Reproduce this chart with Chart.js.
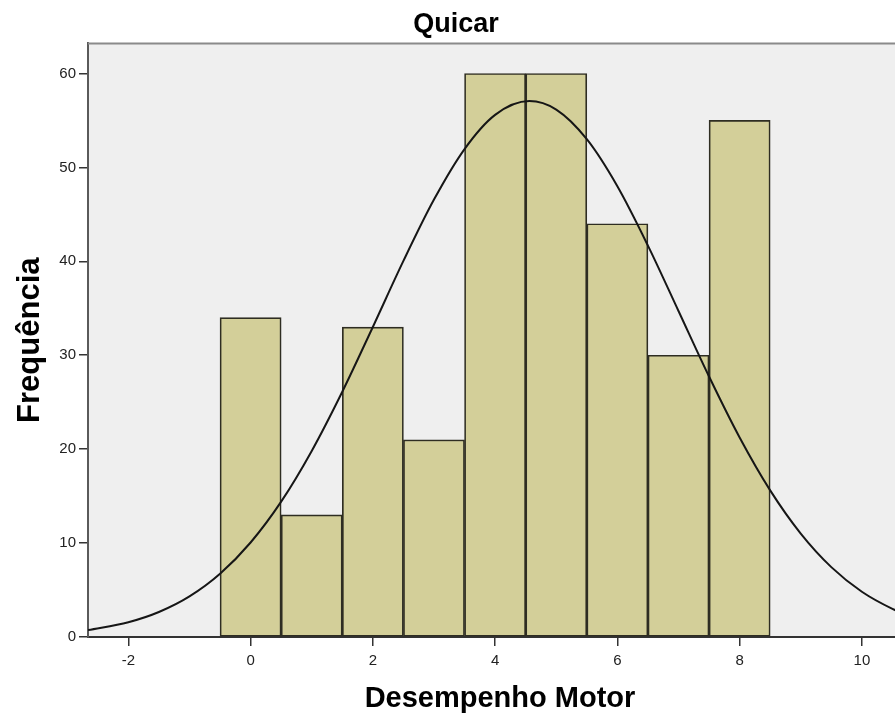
<!DOCTYPE html>
<html>
<head>
<meta charset="utf-8">
<script src="https://cdn.jsdelivr.net/npm/chart.js@4/dist/chart.umd.min.js"></script>
<style>
html,body{margin:0;padding:0;overflow:hidden;background:#fff;}
#wrap{width:912px;height:719px;}
</style>
</head>
<body>
<div id="wrap"><canvas id="c" width="912" height="719"></canvas></div>
<script>
// Histogram bins (centres) and counts
const binCenters = [0, 1, 2, 3, 4, 5, 6, 7, 8];
const frequencies = [34, 13, 33, 21, 60, 60, 44, 30, 55];

// Fitted normal curve (x value, frequency)
const curveX = [-2.66, -2, -1.5, -1, -0.5, 0, 0.5, 1, 1.5, 2, 2.5, 3, 3.5, 4, 4.56, 5, 5.5, 6, 6.5, 7, 7.5, 8, 8.5, 9, 9.5, 10, 10.5, 10.82];
const curveY = [0.73, 1.57, 2.66, 4.32, 6.73, 10.06, 14.41, 19.81, 26.11, 33.01, 40.04, 46.57, 51.95, 55.59, 57.06, 56.15, 53.00, 47.99, 41.67, 34.71, 27.73, 21.24, 15.61, 11.01, 7.44, 4.82, 3.00, 2.16];

// Tick labels
const xTicks = [-2, 0, 2, 4, 6, 8, 10];
const yTicks = [0, 10, 20, 30, 40, 50, 60];

const chartTitle = 'Quicar';
const xTitle = 'Desempenho Motor';
const yTitle = 'Frequência';

const FONT = "'Liberation Sans', Arial, sans-serif";

const plotBg = {
  id: 'plotBg',
  beforeDraw(chart) {
    const {ctx, chartArea: a} = chart;
    ctx.save();
    ctx.fillStyle = '#efefef';
    ctx.fillRect(a.left, a.top, a.right - a.left, a.bottom - a.top);
    ctx.restore();
  },
  afterDraw(chart) {
    const {ctx, chartArea: a} = chart;
    ctx.save();
    ctx.strokeStyle = '#8a8a8a';
    ctx.lineWidth = 2;
    ctx.beginPath();
    ctx.moveTo(a.left, a.top);
    ctx.lineTo(a.right, a.top);
    ctx.stroke();
    ctx.restore();
  }
};

new Chart(document.getElementById('c'), {
  type: 'bar',
  data: {
    datasets: [
      {
        type: 'line',
        data: curveX.map((x, i) => ({x: x, y: curveY[i]})),
        borderColor: '#161616',
        borderWidth: 2,
        pointRadius: 0,
        fill: false,
        cubicInterpolationMode: 'monotone',
        order: 0
      },
      {
        type: 'bar',
        data: binCenters.map((x, i) => ({x: x, y: frequencies[i]})),
        backgroundColor: '#d3cf99',
        borderColor: '#2e2d22',
        borderWidth: 1.7,
        borderSkipped: false,
        barPercentage: 1,
        categoryPercentage: 1,
        order: 1
      }
    ]
  },
  options: {
    responsive: false,
    animation: false,
    layout: {padding: 0},
    plugins: {
      legend: {display: false},
      tooltip: {enabled: false},
      title: {
        display: true,
        text: chartTitle,
        color: '#000',
        font: {family: FONT, size: 27, weight: 'bold'},
        padding: {top: 8, bottom: 3}
      }
    },
    scales: {
      x: {
        type: 'linear',
        min: -2.66,
        max: 10.82,
        offset: false,
        afterBuildTicks(scale) { scale.ticks = xTicks.map(v => ({value: v})); },
        afterFit(scale) { scale.height = 82; },
        grid: {display: true, offset: false, drawOnChartArea: false, drawTicks: true, tickLength: 9, color: '#333', lineWidth: 1.5},
        border: {display: true, color: '#333', width: 2},
        ticks: {color: '#222', font: {family: FONT, size: 15}, padding: 6, maxRotation: 0},
        title: {display: true, text: xTitle, color: '#000', font: {family: FONT, size: 29, weight: 'bold'}, padding: {top: 0, bottom: 3}}
      },
      y: {
        type: 'linear',
        min: 0,
        max: 63.2,
        afterBuildTicks(scale) { scale.ticks = yTicks.map(v => ({value: v})); },
        afterFit(scale) { scale.width = 88; },
        grid: {display: true, drawOnChartArea: false, drawTicks: true, tickLength: 9, color: '#333', lineWidth: 1.5},
        border: {display: true, color: '#5a5a5a', width: 2},
        ticks: {color: '#222', font: {family: FONT, size: 15}, padding: 3},
        title: {display: true, text: yTitle, color: '#000', font: {family: FONT, size: 31, weight: 'bold'}, padding: {top: 12, bottom: 0}}
      }
    }
  },
  plugins: [plotBg]
});
</script>
</body>
</html>
